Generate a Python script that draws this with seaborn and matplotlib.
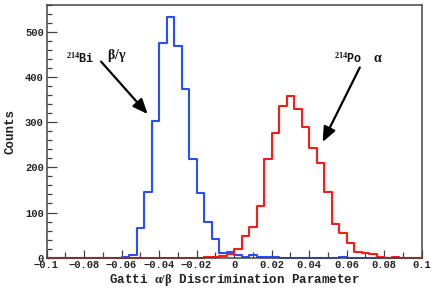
import numpy as np
import pandas as pd
import matplotlib
matplotlib.use("Agg")
import matplotlib.pyplot as plt
import seaborn as sns
from matplotlib.ticker import FixedLocator, MultipleLocator

# ---------------- data ----------------
bin_edges = [round(v, 4) for v in np.linspace(-0.1, 0.1, 51)]   # 50 bins, width 0.004
bi_counts = [0, 0, 0, 0, 0, 0, 0, 0, 0, 0,
             1, 5, 65, 146, 302, 476, 533, 468, 374, 218,
             143, 80, 41, 10, 12, 5, 2, 6, 1, 1,
             1, 0, 0, 0, 0, 0, 0, 0, 0, 1,
             0, 0, 0, 0, 0, 0, 0, 0, 0, 0]
po_counts = [0, 0, 0, 0, 0, 0, 0, 0, 0, 0,
             0, 0, 0, 0, 0, 0, 0, 0, 0, 0,
             0, 1, 2, 4, 9, 19, 48, 67, 115, 218,
             277, 335, 359, 329, 289, 243, 210, 145, 75, 54,
             32, 12, 10, 9, 1, 0, 1, 0, 0, 0]
x_ticks = [-0.1, -0.08, -0.06, -0.04, -0.02, 0, 0.02, 0.04, 0.06, 0.08, 0.1]
x_tick_labels = ["\u22120.1", "\u22120.08", "\u22120.06", "\u22120.04", "\u22120.02", "0",
                 "0.02", "0.04", "0.06", "0.08", "0.1"]
y_ticks = [0, 100, 200, 300, 400, 500]
y_tick_labels = ["0", "100", "200", "300", "400", "500"]

edges_arr = np.array(bin_edges)
centers = (edges_arr[:-1] + edges_arr[1:]) / 2
df_bi = pd.DataFrame({"param": centers, "counts": bi_counts})
df_po = pd.DataFrame({"param": centers, "counts": po_counts})

# ---------------- style ----------------
sns.set_style("white")
plt.rcParams["font.family"] = ["Liberation Mono", "DejaVu Sans"]
plt.rcParams["font.weight"] = "bold"
plt.rcParams["mathtext.fontset"] = "custom"
plt.rcParams["mathtext.rm"] = "Liberation Serif"
plt.rcParams["mathtext.it"] = "Liberation Serif:italic"
plt.rcParams["mathtext.bf"] = "Liberation Serif:bold"

fig = plt.figure(figsize=(4.36, 2.91), dpi=100)
fig.patch.set_facecolor("white")
ax = fig.add_axes([46.5 / 436, 1 - 257.7 / 291, (421.7 - 46.5) / 436, (257.7 - 4.7) / 291])

sns.histplot(data=df_bi, x="param", weights="counts", bins=bin_edges,
             element="step", fill=False, color="#2a4dff", linewidth=1.5, ax=ax)
sns.histplot(data=df_po, x="param", weights="counts", bins=bin_edges,
             element="step", fill=False, color="#ff1a1a", linewidth=1.5, ax=ax)
for ln in ax.lines:
    ln.set_clip_on(False)

ax.set_xlim(-0.1, 0.1)
ax.set_ylim(0, 560)

for s in ax.spines.values():
    s.set_color("#444444")
    s.set_linewidth(1.1)

ax.xaxis.set_major_locator(FixedLocator(x_ticks))
ax.set_xticklabels(x_tick_labels)
ax.xaxis.set_minor_locator(MultipleLocator(0.01))
ax.yaxis.set_major_locator(FixedLocator(y_ticks))
ax.set_yticklabels(y_tick_labels)
ax.yaxis.set_minor_locator(MultipleLocator(20))
ax.tick_params(axis="both", which="both", direction="in", colors="#444444",
               labelcolor="#222222", labelsize=7.5, bottom=True, left=True,
               top=False, right=False)
ax.tick_params(axis="x", which="major", length=6, width=0.9, pad=2)
ax.tick_params(axis="x", which="minor", length=4.5, width=0.9)
ax.tick_params(axis="y", which="major", length=7, width=0.9, pad=2)
ax.tick_params(axis="y", which="minor", length=3.6, width=0.9)
for lab in ax.get_xticklabels() + ax.get_yticklabels():
    lab.set_fontweight("bold")

ax.set_xlabel(r"Gatti $\mathrm{\alpha/\beta}$ Discrimination Parameter",
              fontsize=9, fontweight="bold", color="#222222", labelpad=1)
ax.set_ylabel("Counts", fontsize=9, fontweight="bold", color="#222222", labelpad=6)

# annotations
ax.text(-0.0745, 442, r"$^{\mathbf{214}}$Bi", fontsize=8.5, fontweight="bold",
        ha="right", va="center", color="#111111")
ax.text(-0.0678, 447, r"$\mathrm{\beta/\gamma}$", fontsize=10,
        ha="left", va="center", color="#111111")
ax.annotate("", xy=(-0.0461, 318), xytext=(-0.0709, 434),
            arrowprops=dict(arrowstyle="-|>,head_length=0.9,head_width=0.38",
                            mutation_scale=10, lw=1.6, color="black",
                            shrinkA=0, shrinkB=0))

ax.text(0.0686, 441, r"$^{\mathbf{214}}$Po", fontsize=8.5, fontweight="bold",
        ha="right", va="center", color="#111111")
ax.text(0.0740, 443, r"$\mathrm{\alpha}$", fontsize=10,
        ha="left", va="center", color="#111111")
ax.annotate("", xy=(0.0472, 256), xytext=(0.0670, 421),
            arrowprops=dict(arrowstyle="-|>,head_length=0.9,head_width=0.38",
                            mutation_scale=10, lw=1.6, color="black",
                            shrinkA=0, shrinkB=0))

fig.savefig("out.png", dpi=100, facecolor="white")
